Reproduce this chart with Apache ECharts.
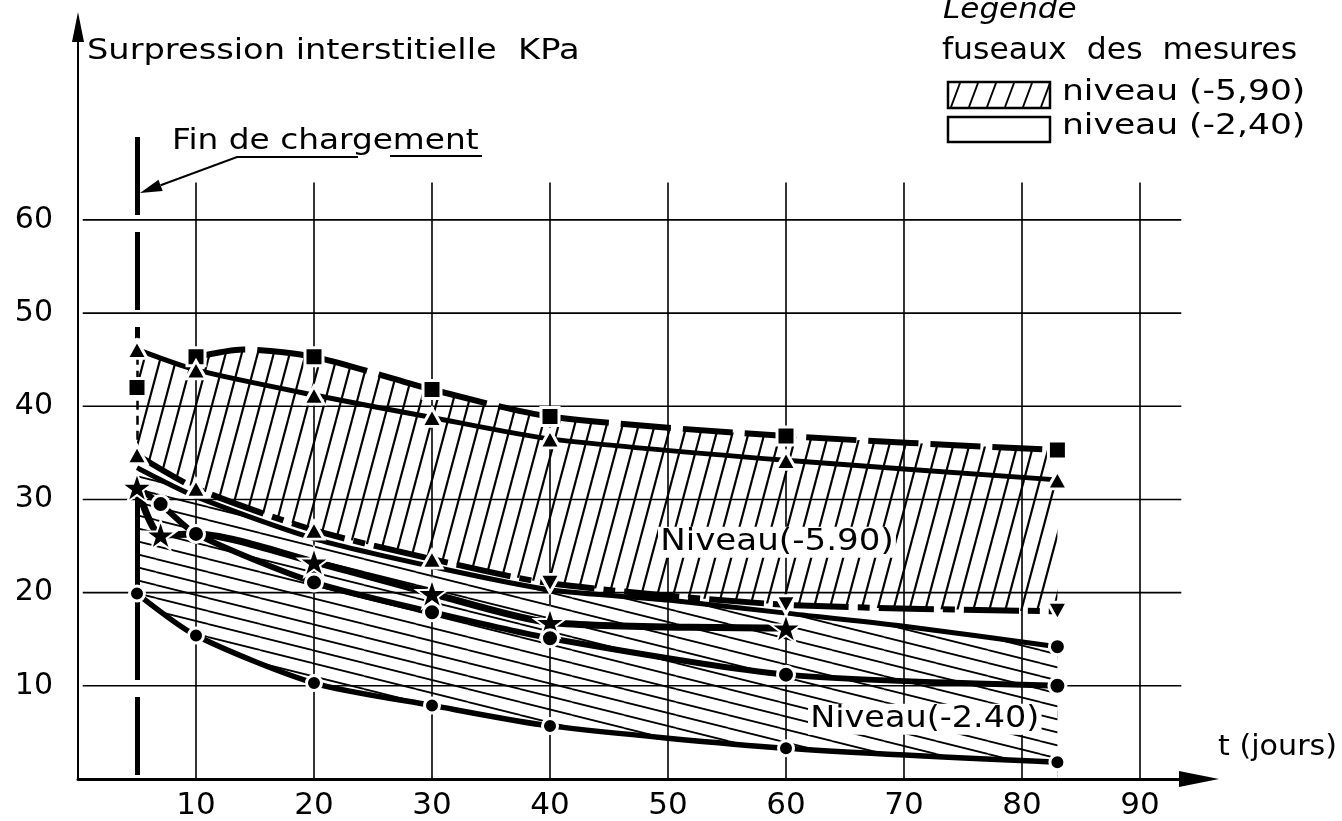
<!DOCTYPE html>
<html>
<head>
<meta charset="utf-8">
<title>Surpression interstitielle</title>
<script src="https://cdn.jsdelivr.net/npm/echarts@6/dist/echarts.min.js"></script>
<style>
  html, body { margin: 0; padding: 0; background: #fff; }
  #chart { width: 1342px; height: 821px; }
</style>
</head>
<body>
<div id="chart"></div>
<script>
// valeurs (t en jours, surpression en kPa)
const xTicks = [10, 20, 30, 40, 50, 60, 70, 80, 90];
const yTicks = [10, 20, 30, 40, 50, 60];
const chargeEnd = 5; // fin de chargement

// fuseau niveau (-5,90)
const sqDays = [5, 10, 20, 30, 40, 60, 83];
const sqVals = [42.0, 45.3, 45.3, 41.8, 38.9, 36.8, 35.3];
const sqCrest = [14, 46.1]; // bosse de la courbe entre 10 et 20 j
const triHighDays = [5, 10, 20, 30, 40, 60, 83];
const triHighVals = [46.1, 43.9, 41.2, 38.8, 36.5, 34.2, 32.1];
const triLowDays = [5, 10, 20, 30, 40, 60, 83];
const triLowVals = [34.8, 31.2, 26.7, 23.6, 21.0, 18.7, 18.0];
const triLowDown = [false, false, false, false, true, true, true]; // triangles pointe en bas

// fuseau niveau (-2,40)
const topBDays = [5, 10, 20, 30, 40, 50, 60, 70, 83];
const topBVals = [33.4, 30.3, 25.8, 22.8, 20.3, 19.2, 17.8, 16.4, 14.2];
const starDays = [5, 7, 10, 20, 30, 40, 60];
const starVals = [31.3, 26.2, 26.3, 23.3, 19.9, 16.8, 16.2];
const starMarked = [true, true, false, true, true, true, true];
const dotHighDays = [5, 7, 10, 20, 30, 40, 60, 83];
const dotHighVals = [31.3, 29.5, 26.3, 21.1, 17.9, 15.1, 11.2, 10.0];
const dotHighMarked = [false, true, true, true, true, true, true, true];
const dotLowDays = [5, 10, 20, 30, 40, 60, 83];
const dotLowVals = [19.9, 15.4, 10.3, 7.9, 5.7, 3.3, 1.8];

const GRID_TOP = 64;     // haut des verticales
const GRID_RIGHT = 93.5; // fin des horizontales
const SMOOTH = 0.25;
const STAR = 'path://M50 0 L61.8 35.4 L99 35.4 L69 57.3 L80.4 92.7 L50 70.8 L19.6 92.7 L31 57.3 L1 35.4 L38.2 35.4 Z';

const pair = (d, v) => d.map((x, i) => [x, v[i]]);

// hachures
function makeHatch(w, h, slash, lw) {
  const c = document.createElement('canvas');
  c.width = w; c.height = h;
  const g = c.getContext('2d');
  g.strokeStyle = '#000';
  g.lineWidth = lw;
  g.beginPath();
  for (let k = -1; k <= 1; k++) {
    if (slash) { g.moveTo(k * w, h); g.lineTo(k * w + w, 0); }
    else { g.moveTo(0, k * h); g.lineTo(w, k * h + h); }
  }
  g.stroke();
  return c;
}
const hatchA = { image: makeHatch(16, 60, true, 2.2), repeat: 'repeat' };
const hatchB = { image: makeHatch(52, 13, false, 1.8), repeat: 'repeat' };

// contour haut du fuseau (-5,90)
const squarePts = pair(sqDays, sqVals);
const bandATop = [[triHighDays[0], triHighVals[0]], [triHighDays[1], triHighVals[1]],
  [sqDays[1] + 0.01, sqVals[1]], sqCrest].concat(squarePts.slice(2));

const squareLine = squarePts.slice(1).map(p => ({ value: p }));
squareLine.splice(1, 0, { value: sqCrest, symbol: 'none' });

const triLowData = triLowDays.map((d, i) => ({ value: [d, triLowVals[i]], symbolRotate: triLowDown[i] ? 180 : 0 }));
const topBData = topBDays.map((d, i) => ({ value: [d, topBVals[i]], symbol: i === topBDays.length - 1 ? 'circle' : 'none' }));
const starData = starDays.map((d, i) => ({ value: [d, starVals[i]], symbol: starMarked[i] ? STAR : 'none' }));
const dotHighData = dotHighDays.map((d, i) => ({ value: [d, dotHighVals[i]], symbol: dotHighMarked[i] ? 'circle' : 'none' }));

function fill(data, color) {
  return {
    type: 'line', data, smooth: SMOOTH, symbol: 'none', z: 1, silent: true,
    lineStyle: { width: 0, opacity: 0 },
    areaStyle: { color, opacity: 1 }
  };
}
const halo = { color: '#000', borderColor: '#fff', borderWidth: 3, opacity: 1 };

const gridItems = xTicks.map(v => [0, v]).concat(yTicks.map(v => [1, v]));

function txt(text, x, base, fs, sx, extra) {
  return {
    type: 'text', x, y: base - 0.346 * fs, scaleX: sx, z: 100,
    style: Object.assign({
      text, x: 0, y: 0, fill: '#000', fontSize: fs, fontFamily: 'DejaVu Sans',
      align: 'left', verticalAlign: 'middle'
    }, extra || {})
  };
}

const legendHatch = [0, 1, 2, 3, 4, 5].map(i => ({
  type: 'line', z: 100,
  shape: { x1: 951 + i * 18, y1: 107, x2: 960 + i * 18, y2: 83 },
  style: { stroke: '#000', lineWidth: 2 }
}));

const chart = echarts.init(document.getElementById('chart'));
chart.setOption({
  animation: false,
  backgroundColor: '#fff',
  grid: { left: 78, right: 143, top: 27, bottom: 41 },
  xAxis: {
    type: 'value', min: 0, max: 95, interval: 10, z: 10,
    axisLine: { lineStyle: { color: '#000', width: 3 }, symbol: ['none', 'triangle'], symbolSize: [16, 40] },
    axisTick: { show: false },
    splitLine: { show: false },
    axisLabel: {
      color: '#000', fontSize: 31, fontFamily: 'DejaVu Sans', margin: 11,
      formatter: v => (xTicks.indexOf(v) >= 0 ? String(v) : '')
    }
  },
  yAxis: {
    type: 'value', min: 0, max: 80.7, interval: 10, z: 10,
    axisLine: { lineStyle: { color: '#000', width: 2 }, symbol: ['none', 'triangle'], symbolSize: [12, 30] },
    axisTick: { show: false },
    splitLine: { show: false },
    axisLabel: {
      color: '#000', fontSize: 30, fontFamily: 'DejaVu Sans', margin: 25,
      formatter: v => (yTicks.indexOf(v) >= 0 ? String(v) : '')
    }
  },
  series: [
    // fuseaux hachurés
    fill(bandATop, hatchA),
    fill(pair(triLowDays, triLowVals), '#fff'),
    fill(pair(topBDays, topBVals), hatchB),
    fill(pair(dotLowDays, dotLowVals), '#fff'),
    // quadrillage + fin de chargement
    {
      type: 'custom', z: 2, silent: true, clip: false,
      data: gridItems,
      renderItem(params, api) {
        const kind = api.value(0), v = api.value(1);
        const a = kind === 0 ? api.coord([v, 0]) : api.coord([0.4, v]);
        const b = kind === 0 ? api.coord([v, GRID_TOP]) : api.coord([GRID_RIGHT, v]);
        return {
          type: 'line',
          shape: { x1: a[0], y1: a[1], x2: b[0], y2: b[1] },
          style: { stroke: '#000', lineWidth: 1.6 }
        };
      },
      markLine: {
        silent: true, symbol: 'none', z: 3, label: { show: false },
        lineStyle: { color: '#000', width: 5, type: [78, 17] },
        data: [
          [{ coord: [chargeEnd, 68.9] }, { coord: [chargeEnd, 47.3] }],
          [{ coord: [chargeEnd, 19.0] }, { coord: [chargeEnd, 0.4] }],
          [{ coord: [chargeEnd, triLowVals[0]], lineStyle: { width: 2.5, type: [9, 6] } },
           { coord: [chargeEnd, triHighVals[0]], lineStyle: { width: 2.5, type: [9, 6] } }],
          [{ coord: [chargeEnd, dotLowVals[0]], lineStyle: { width: 5, type: 'solid' } },
           { coord: [chargeEnd, starVals[0]], lineStyle: { width: 5, type: 'solid' } }]
        ]
      }
    },
    // courbes de mesure
    {
      name: 'carrés', type: 'line', z: 4, data: squareLine, smooth: SMOOTH,
      symbol: 'rect', symbolSize: 18, itemStyle: halo,
      lineStyle: { color: '#000', width: 6, type: [50, 12] }
    },
    {
      name: 'carré initial', type: 'scatter', z: 4, data: [squarePts[0]],
      symbol: 'rect', symbolSize: 18, itemStyle: halo
    },
    {
      name: 'triangles haut', type: 'line', z: 4, data: pair(triHighDays, triHighVals), smooth: SMOOTH,
      symbol: 'triangle', symbolSize: [20, 18], itemStyle: halo,
      lineStyle: { color: '#000', width: 5 }
    },
    {
      name: 'triangles bas', type: 'line', z: 4, data: triLowData, smooth: SMOOTH,
      symbol: 'triangle', symbolSize: [20, 18], itemStyle: halo,
      lineStyle: { color: '#000', width: 6, type: [55, 9, 12, 9] }
    },
    {
      name: 'enveloppe', type: 'line', z: 4, data: topBData, smooth: SMOOTH,
      symbolSize: 16, itemStyle: halo,
      lineStyle: { color: '#000', width: 5 }
    },
    {
      name: 'étoiles', type: 'line', z: 4, data: starData, smooth: SMOOTH,
      symbolSize: 31, symbolKeepAspect: true,
      itemStyle: { color: '#000', borderColor: '#fff', borderWidth: 2, opacity: 1 },
      lineStyle: { color: '#000', width: 7 }
    },
    {
      name: 'points haut', type: 'line', z: 4, data: dotHighData, smooth: SMOOTH,
      symbolSize: 17, itemStyle: halo,
      lineStyle: { color: '#000', width: 6 }
    },
    {
      name: 'points bas', type: 'line', z: 4, data: pair(dotLowDays, dotLowVals), smooth: SMOOTH,
      symbol: 'circle', symbolSize: 15, itemStyle: halo,
      lineStyle: { color: '#000', width: 5.5 }
    }
  ],
  graphic: {
    elements: [
      txt('Surpression interstitielle  KPa', 87, 62, 29, 1.16),
      txt('Fin de chargement', 172, 152, 29, 1.13),
      { type: 'polyline', z: 100, shape: { points: [[160.6, 185.3], [237, 157], [358, 157]] },
        style: { stroke: '#000', lineWidth: 2, fill: null } },
      { type: 'line', z: 100, shape: { x1: 390, y1: 156, x2: 482, y2: 156 },
        style: { stroke: '#000', lineWidth: 2 } },
      { type: 'polygon', z: 100, shape: { points: [[140, 193], [162.7, 190.9], [158.5, 179.7]] },
        style: { fill: '#000' } },
      txt('Niveau(-5.90)', 658, 553, 31, 1.1, { backgroundColor: '#fff', padding: [0, 2] }),
      txt('Niveau(-2.40)', 808, 730, 31, 1.08, { backgroundColor: '#fff', padding: [0, 2] }),
      txt('t (jours)', 1218, 758, 29, 1.04),
      txt('Legende', 943, 21, 29, 1.07, { fontStyle: 'italic' }),
      txt('fuseaux  des  mesures', 942, 62, 30, 1.05),
      { type: 'rect', z: 100, shape: { x: 948, y: 82, width: 102, height: 26 },
        style: { stroke: '#000', lineWidth: 2.5, fill: null } }
    ].concat(legendHatch).concat([
      txt('niveau (-5,90)', 1062, 103, 29, 1.19),
      { type: 'rect', z: 100, shape: { x: 948, y: 117, width: 102, height: 25 },
        style: { stroke: '#000', lineWidth: 2.5, fill: null } },
      txt('niveau (-2,40)', 1062, 137, 29, 1.19)
    ])
  }
});
</script>
</body>
</html>
